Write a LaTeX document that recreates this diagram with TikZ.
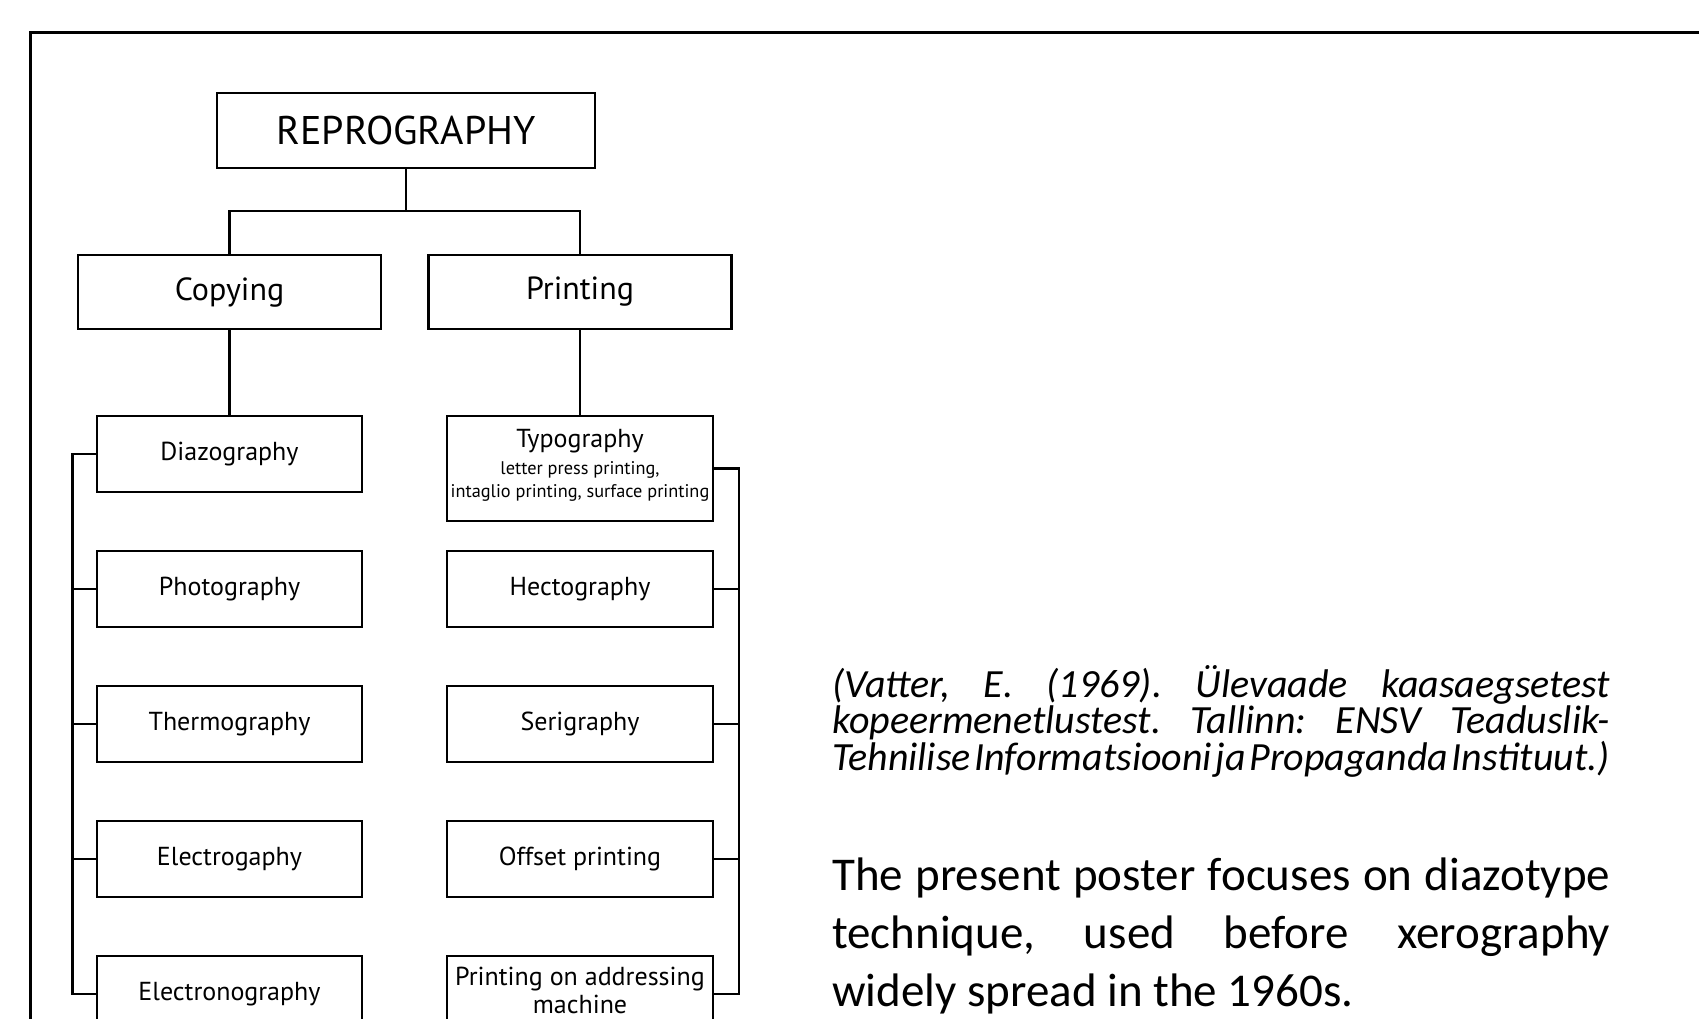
\documentclass[tikz,border=0pt]{standalone}
\usepackage{fontspec}
\setmainfont{PT Sans}
\newfontfamily\carlito{Carlito}
\frenchspacing
\begin{document}
\begin{tikzpicture}[x=1pt,y=-1pt,
  wire/.style={line width=2.3pt},
  boxbase/.style={draw, line width=2.3pt, inner sep=0pt, align=center},
  leafbox/.style={boxbase, minimum width=265.5pt, minimum height=76pt, font=\fontsize{26}{31}\selectfont},
  midbox/.style={boxbase, minimum width=303pt, minimum height=74pt, font=\fontsize{32}{38}\selectfont},
  topbox/.style={boxbase, minimum width=378pt, minimum height=75pt, font=\fontsize{40}{48}\selectfont},
  citeline/.style={anchor=base west, inner sep=0pt, font=\carlito\itshape\fontsize{40}{46}\selectfont},
  mainline/.style={anchor=base west, inner sep=0pt, font=\carlito\fontsize{47}{58}\selectfont},
]
\useasboundingbox (0,0) rectangle (1699,1018);
\clip (0,0) rectangle (1699,1018);
\fill[white] (0,0) rectangle (1699,1018);
% outer frame (open at right and bottom)
\draw[line width=3pt] (30,1100) -- (30,32) -- (1760,32);

% top levels
\node[topbox] (repro) at (406,130.5) {REPROGRAPHY};
\node[midbox] (copy) at (229.5,292) {Copying};
\node[midbox] (print) at (580,292) {Printing};
\coordinate (split) at (406,211);

% left column
\node[leafbox] (diazo)  at (229.5,454) {Diazography};
\node[leafbox] (photo)  at (229.5,589) {Photography};
\node[leafbox] (thermo) at (229.5,724) {Thermography};
\node[leafbox] (electro) at (229.5,859) {Electrogaphy};
\node[leafbox] (electrono) at (229.5,994) {Electronography};

% right column
\node[boxbase, minimum width=265.5pt, minimum height=105pt] (typo) at (580,468.5) {};
\node[inner sep=0pt, font=\fontsize{26}{31}\selectfont] (typot) at (580,441) {Typography};
\node[inner sep=0pt, align=center, font=\fontsize{18.3}{23}\selectfont] (typos) at (580,481.5) {letter press printing,\\intaglio printing, surface printing};
\node[leafbox] (hecto)  at (580,589) {Hectography};
\node[leafbox] (seri)   at (580,724) {Serigraphy};
\node[leafbox] (offset) at (580,859) {Offset printing};
\node[leafbox] (addr) at (580,994) {};
\node[inner sep=0pt, font=\fontsize{26}{31}\selectfont] (addr1) at (580,979) {Printing on addressing};
\node[inner sep=0pt, font=\fontsize{26}{31}\selectfont] (addr2) at (580,1004) {machine};

% connectors
\draw[wire] (repro.south) -- (split);
\draw[wire] (copy.north) |- (split) -| (print.north);
\draw[wire] (copy.south) -- (diazo.north);
\draw[wire] (print.south) -- (typo.north);

\coordinate (lbus) at (72.5,0);
\coordinate (rbus) at (739,0);
\draw[wire] (diazo.west) -- (diazo.west -| lbus) -- (electrono.west -| lbus) -- (electrono.west);
\foreach \n in {photo,thermo,electro} \draw[wire] (\n.west) -- (\n.west -| lbus);
\draw[wire] (typo.east) -- (typo.east -| rbus) -- (addr.east -| rbus) -- (addr.east);
\foreach \n in {hecto,seri,offset} \draw[wire] (\n.east) -- (\n.east -| rbus);

% right-hand texts
\node[citeline] (cite1) at (832,697) {\makebox[778pt][s]{(Vatter, E. (1969). Ülevaade kaasaegsetest}};
\node[citeline] (cite2) at (832,733.5) {\makebox[778pt][s]{kopeermenetlustest. Tallinn: ENSV Teaduslik-}};
\node[citeline] (cite3) at (832,770) {\makebox[778pt][s]{\spaceskip=0.04em plus 1em minus 0.04em\relax Tehnilise Informatsiooni ja Propaganda Instituut.)}};

\node[mainline] (main1) at (832,890) {\makebox[778pt][s]{The present poster focuses on diazotype}};
\node[mainline] (main2) at (832,948) {\makebox[778pt][s]{technique, used before xerography}};
\node[mainline] (main3) at (832,1006) {widely spread in the 1960s.};
\end{tikzpicture}
\end{document}
